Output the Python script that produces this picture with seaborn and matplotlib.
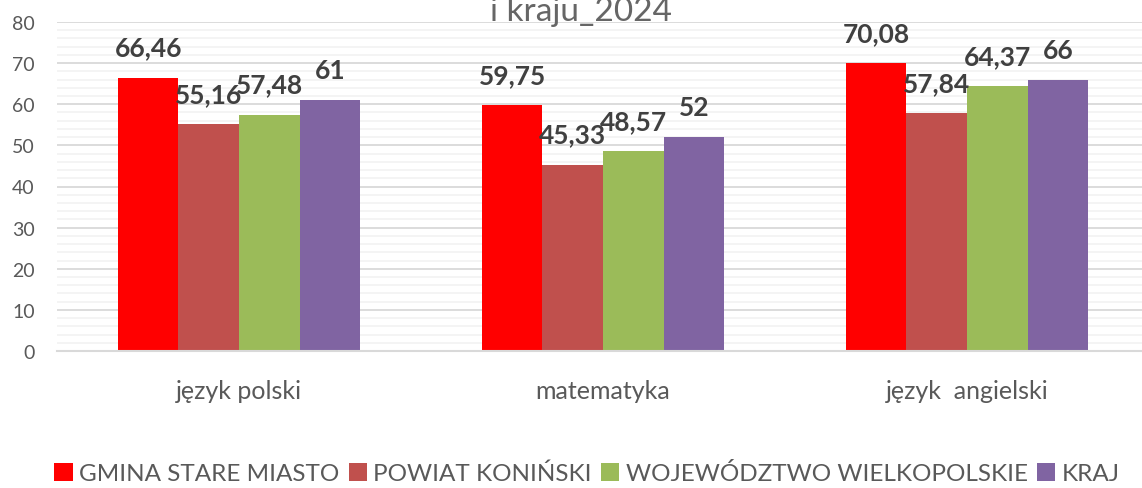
import numpy as np
import pandas as pd
import matplotlib
matplotlib.use("Agg")
import matplotlib.pyplot as plt
from matplotlib.ticker import MultipleLocator
import seaborn as sns

subjects = ["język polski", "matematyka", "język  angielski"]
regions = ["GMINA STARE MIASTO", "POWIAT KONIŃSKI", "WOJEWÓDZTWO WIELKOPOLSKIE", "KRAJ"]
gmina = [66.46, 59.75, 70.08]
powiat = [55.16, 45.33, 57.84]
wojewodztwo = [57.48, 48.57, 64.37]
kraj = [61, 52, 66]
colors = ["#FF0000", "#C0504D", "#9BBB59", "#8064A2"]

rows = []
for reg, vals in zip(regions, [gmina, powiat, wojewodztwo, kraj]):
    for s, v in zip(subjects, vals):
        rows.append({"subject": s, "region": reg, "value": v})
df = pd.DataFrame(rows)

sns.set_style("white")
plt.rcParams["font.family"] = ["Lato", "DejaVu Sans"]

fig = plt.figure(figsize=(11.42, 4.89), dpi=100)
ax = fig.add_axes([57 / 1142, 1 - 352 / 489, 1092 / 1142, 329 / 489])

sns.barplot(data=df, x="subject", y="value", hue="region", palette=colors,
            width=0.665, saturation=1, ax=ax, legend=True, errorbar=None,
            edgecolor="none")

ax.set_ylim(0, 80)
ax.yaxis.set_major_locator(MultipleLocator(10))
ax.yaxis.set_minor_locator(MultipleLocator(2))
ax.grid(axis="y", which="major", color="#d9d9d9", lw=1.3)
ax.grid(axis="y", which="minor", color="#f2f2f2", lw=1.2)
ax.set_axisbelow(True)
for sp in ["top", "right", "left"]:
    ax.spines[sp].set_visible(False)
ax.spines["bottom"].set_color("#d9d9d9")
ax.spines["bottom"].set_linewidth(1.5)
ax.tick_params(axis="y", which="both", length=0, pad=16, labelsize=14, labelcolor="#595959")
ax.tick_params(axis="x", length=0, pad=20, labelsize=18, labelcolor="#595959")
ax.set_xlabel("")
ax.set_ylabel("")

for cont in ax.containers:
    labels = [("%g" % b.get_height()).replace(".", ",") for b in cont]
    ax.bar_label(cont, labels=labels, padding=13, fontsize=19, fontweight="bold",
                 color="#404040")

handles, labs = ax.get_legend_handles_labels()
ax.get_legend().remove()
fig.legend(handles, labs, loc="center", bbox_to_anchor=(0.514, 0.03), ncol=4,
           frameon=False, fontsize=17.5, handlelength=0.75, handleheight=0.75,
           handletextpad=0.25, columnspacing=0.4, labelcolor="#595959")

fig.text(0.509, 1 - 21 / 489, "i kraju_2024", ha="center", va="baseline",
         fontsize=24, color="#666666")

fig.savefig("out.png", dpi=100)
